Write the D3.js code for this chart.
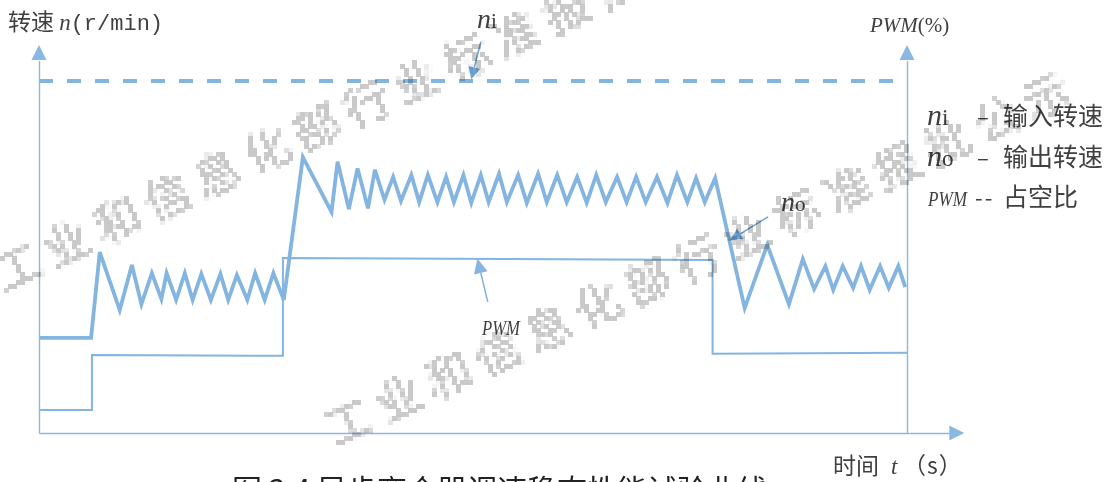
<!DOCTYPE html>
<html>
<head>
<meta charset="utf-8">
<script src="https://cdn.jsdelivr.net/npm/d3@7"></script>
<style>
  body { margin: 0; background: #fff; }
  svg { display: block; }
</style>
</head>
<body>
<svg id="chart" width="1117" height="482"></svg>
<script>
// ---- data -------------------------------------------------------------
// output speed n_o (r/min, relative units) against time t
const noTime = [
  0, 6.0, 7.0, 9.3, 10.7, 11.8, 13.0, 14.1, 14.7, 15.8, 16.8, 17.7, 18.7, 19.8,
  20.9, 21.8, 22.8, 24.0, 24.9, 26.0, 27.0, 28.2,
  30.4, 33.7, 34.4, 35.7, 36.7, 37.9, 38.7, 39.8,
  40.8, 41.7, 42.9, 43.8, 44.8, 45.9, 46.9, 47.8, 48.9, 49.8, 50.9, 51.8,
  53.0, 53.9, 55.2, 56.2, 57.5, 58.5, 59.7, 60.8, 62.0, 63.1, 64.2, 65.3,
  66.6, 67.7, 68.8, 69.9, 71.2, 72.4, 73.5, 74.7, 75.7, 76.7, 77.9,
  81.3, 83.9, 86.4, 88.0, 89.3, 90.6, 91.5, 92.6, 93.8, 94.7, 95.7, 96.9, 97.9, 99.0, 99.8
];
const noSpeed = [
  24.5, 24.5, 46.6, 31.7, 43.3, 33.2, 41.2, 34.5, 41.2, 34.3, 41.2, 34.3, 41.0, 34.3,
  41.0, 34.3, 40.7, 34.3, 41.2, 34.3, 41.2, 34.3,
  71.1, 57.0, 69.9, 57.7, 68.2, 57.9, 67.8, 60.1,
  66.0, 59.8, 66.5, 59.5, 66.5, 59.5, 66.0, 59.5, 66.5, 59.3, 66.5, 59.5,
  66.8, 59.5, 66.5, 59.3, 66.8, 59.5, 66.5, 59.5, 66.0, 59.3, 66.5, 59.5,
  66.0, 59.5, 66.0, 59.5, 66.0, 59.3, 66.5, 59.5, 65.7, 59.5, 65.7,
  32.2, 48.5, 33.2, 44.8, 37.1, 43.0, 36.9, 43.0, 37.4, 43.0, 36.9, 43.0, 37.4, 43.0, 37.6
];

// input speed n_i (constant)
const niTime = [0, 98.5];
const niSpeed = [90.7, 90.7];

// PWM duty cycle (%) against time t
const pwmTime = [0, 6.1, 6.1, 28.1, 28.1, 77.6, 77.6, 100];
const pwmDuty = [5.9, 5.9, 20.1, 19.9, 45.1, 44.6, 20.4, 20.7];

// legend entries
const legendSymbols = ["n", "n", "PWM"];
const legendSubs = ["i", "o", ""];
const legendDashes = ["–", "–", "--"];
const legendTexts = ["输入转速", "输出转速", "占空比"];

const watermarkText = "工业和信息化部行业标准报批公示";
const captionText = "图 3.4 异步离合器调速稳态性能试验曲线";

// ---- scales -----------------------------------------------------------
const svg = d3.select("#chart");
const x = d3.scaleLinear().domain([0, 100]).range([39, 907]);
const y = d3.scaleLinear().domain([0, 100]).range([433, 45]);
const yPwm = d3.scaleLinear().domain([0, 100]).range([433, 45]);

const BLUE = "#84b4e0";
const AXIS = "#8bb8e3";
const TEXT = "#404040";
const serif = "'Liberation Serif', 'DejaVu Serif', serif";
const cjk = "'Noto Sans CJK SC', sans-serif";

const line = d3.line().x(d => x(d[0])).y(d => y(d[1]));
const linePwm = d3.line().x(d => x(d[0])).y(d => yPwm(d[1]));

// ---- axes -------------------------------------------------------------
const axes = svg.append("g");
const arrowHead = (tx, ty, dir, len = 15, half = 7.5) => {
  // triangle pointing in direction dir ("up" | "right")
  if (dir === "up") return `M${tx},${ty} L${tx - half},${ty + len} L${tx + half},${ty + len} Z`;
  return `M${tx},${ty} L${tx - len},${ty - half} L${tx - len},${ty + half} Z`;
};

// time axis, from the origin past t = 100
axes.append("g")
  .attr("transform", `translate(0,${y(0)})`)
  .call(d3.axisBottom(d3.scaleLinear().domain([0, 105]).range([x(0), x(105)]))
        .tickValues([]).tickSizeOuter(0))
  .select(".domain").attr("stroke", AXIS).attr("stroke-width", 1.4);
axes.append("path").attr("d", arrowHead(x(106.6), y(0), "right", 15, 7.5)).attr("fill", AXIS);

// speed axis (left)
axes.append("g")
  .attr("transform", `translate(${x(0)},0)`)
  .call(d3.axisLeft(d3.scaleLinear().domain([0, 96]).range([y(0), y(96)]))
        .tickValues([]).tickSizeOuter(0))
  .select(".domain").attr("stroke", AXIS).attr("stroke-width", 1.4);
axes.append("path").attr("d", arrowHead(x(0), y(100), "up")).attr("fill", AXIS);

// PWM axis (right)
axes.append("g")
  .attr("transform", `translate(${x(100)},0)`)
  .call(d3.axisRight(d3.scaleLinear().domain([0, 96]).range([yPwm(0), yPwm(96)]))
        .tickValues([]).tickSizeOuter(0))
  .select(".domain").attr("stroke", AXIS).attr("stroke-width", 1.4);
axes.append("path").attr("d", arrowHead(x(100), yPwm(100), "up")).attr("fill", AXIS);

// ---- series -----------------------------------------------------------
svg.append("path")
  .datum(d3.zip(pwmTime, pwmDuty))
  .attr("d", linePwm)
  .attr("fill", "none").attr("stroke", BLUE).attr("stroke-width", 2);

svg.append("path")
  .datum(d3.zip(niTime, niSpeed))
  .attr("d", line)
  .attr("fill", "none").attr("stroke", BLUE).attr("stroke-width", 4)
  .attr("stroke-dasharray", "14,14");

svg.append("path")
  .datum(d3.zip(noTime, noSpeed))
  .attr("d", line)
  .attr("fill", "none").attr("stroke", BLUE).attr("stroke-width", 3.8)
  .attr("stroke-linejoin", "miter").attr("stroke-miterlimit", 4);

// ---- annotation arrows --------------------------------------------------
function pointer(from, to, color, width, headLen, headHalf) {
  const [x1, y1] = [x(from[0]), y(from[1])];
  const [x2, y2] = [x(to[0]), y(to[1])];
  const a = Math.atan2(y2 - y1, x2 - x1);
  const bx = x2 - headLen * Math.cos(a), by = y2 - headLen * Math.sin(a);
  svg.append("line").attr("x1", x1).attr("y1", y1).attr("x2", bx).attr("y2", by)
    .attr("stroke", color).attr("stroke-width", width);
  const px = -Math.sin(a) * headHalf, py = Math.cos(a) * headHalf;
  svg.append("path")
    .attr("d", `M${x2},${y2} L${bx + px},${by + py} L${bx - px},${by - py} Z`)
    .attr("fill", color);
}
pointer([50.9, 100.8], [49.8, 91.2], "#6ea3d8", 1.6, 12, 6);
pointer([84.0, 55.7], [79.6, 49.7], "#6ea3d8", 1.6, 12, 6);
pointer([51.7, 33.8], [50.5, 45.0], "#86b5e0", 1.6, 15, 7);

// in-plot labels
function speedLabel(g, xPos, yPos, sub, big = 28, small = 21) {
  const t = g.append("text").attr("x", xPos).attr("y", yPos).attr("fill", TEXT);
  t.append("tspan").attr("font-family", serif).attr("font-style", "italic")
    .attr("font-size", big).text("n");
  t.append("tspan").attr("font-family", serif).attr("font-size", small).text(sub);
  return t;
}
speedLabel(svg, 477, 28, "i");
speedLabel(svg, 781, 211, "o");
svg.append("text").attr("x", 482).attr("y", 335)
  .attr("font-family", serif).attr("font-style", "italic").attr("font-size", 20)
  .attr("textLength", 38).attr("lengthAdjust", "spacingAndGlyphs")
  .attr("fill", TEXT).text("PWM");

// ---- axis titles --------------------------------------------------------
const lt = svg.append("text").attr("x", 8).attr("y", 30).attr("fill", TEXT).attr("font-size", 23);
lt.append("tspan").attr("font-family", cjk).text("转速 ");
lt.append("tspan").attr("font-family", serif).attr("font-style", "italic").text("n");
lt.append("tspan").attr("font-family", "'Liberation Mono', monospace").attr("font-size", 22).text("(r/min)");

const rt = svg.append("text").attr("x", 870).attr("y", 32).attr("fill", TEXT).attr("font-size", 21);
rt.append("tspan").attr("font-family", serif).attr("font-style", "italic").text("PWM");
rt.append("tspan").attr("font-family", serif).text("(%)");

const bt = svg.append("text").attr("y", 474).attr("fill", TEXT).attr("font-size", 23);
bt.append("tspan").attr("x", 833).attr("font-family", cjk).text("时间");
bt.append("tspan").attr("x", 891).attr("font-family", serif).attr("font-style", "italic").text("t");
bt.append("tspan").attr("x", 903).attr("font-family", cjk).attr("letter-spacing", 1).text("（s）");

// ---- legend -----------------------------------------------------------
const legend = svg.append("g");
const legendY = [125, 166, 206];
legendSymbols.forEach((s, i) => {
  const yy = legendY[i];
  if (s === "n") {
    speedLabel(legend, 927, yy, legendSubs[i], 30, 23);
  } else {
    legend.append("text").attr("x", 928).attr("y", yy)
      .attr("font-family", serif).attr("font-style", "italic").attr("font-size", 21)
      .attr("textLength", 39).attr("lengthAdjust", "spacingAndGlyphs")
      .attr("fill", TEXT).text(s);
  }
  legend.append("text").attr("x", i < 2 ? 977 : 975).attr("y", yy)
    .attr("font-family", cjk).attr("font-size", 22).attr("fill", TEXT)
    .attr("letter-spacing", i < 2 ? 0 : 2).text(legendDashes[i]);
  legend.append("text").attr("x", 1003).attr("y", yy)
    .attr("font-family", cjk).attr("font-size", 25).attr("fill", TEXT).text(legendTexts[i]);
});

// ---- caption (runs off the bottom edge) --------------------------------
svg.append("text").attr("x", 232).attr("y", 501)
  .attr("font-family", cjk).attr("font-size", 30).attr("fill", "#222")
  .text(captionText);

// ---- watermark (coarse, blocky bitmap look) ------------------------------
const defs = svg.append("defs");
const pix = defs.append("filter").attr("id", "blocky")
  .attr("filterUnits", "userSpaceOnUse")
  .attr("x", 0).attr("y", 0).attr("width", 1117).attr("height", 482);
pix.append("feFlood").attr("x", 2).attr("y", 2).attr("width", 1).attr("height", 1)
  .attr("flood-color", "#000");
pix.append("feComposite").attr("width", 4).attr("height", 4);
pix.append("feTile").attr("result", "grid");
pix.append("feComposite").attr("in", "SourceGraphic").attr("in2", "grid").attr("operator", "in");
pix.append("feMorphology").attr("operator", "dilate").attr("radius", 2);

const wm = svg.append("g").style("mix-blend-mode", "multiply").attr("filter", "url(#blocky)");
[[4, 292], [335, 447]].forEach(([wx, wy]) => {
  wm.append("text")
    .attr("transform", `translate(${wx},${wy}) rotate(-25)`)
    .attr("font-family", cjk).attr("font-size", 46)
    .attr("letter-spacing", 9)
    .attr("fill", "#9c9c9c").attr("fill-opacity", 0.55)
    .text(watermarkText);
});
</script>
</body>
</html>
